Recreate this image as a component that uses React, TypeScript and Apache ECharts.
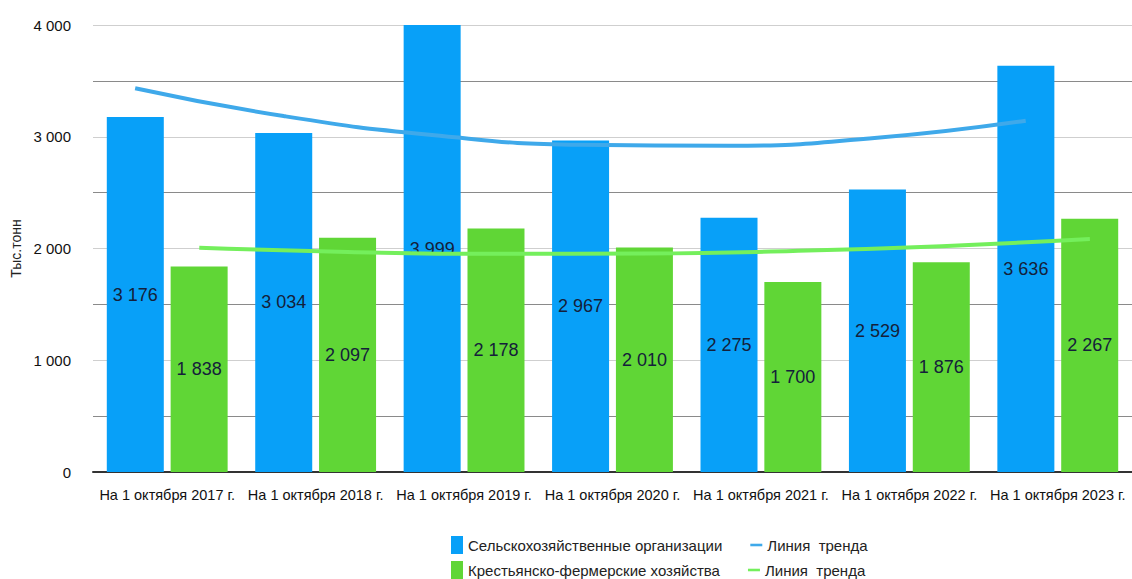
import React, { useEffect, useRef } from "react";
import * as echarts from "echarts";

const categories = [
  "На 1 октября 2017 г.",
  "На 1 октября 2018 г.",
  "На 1 октября 2019 г.",
  "На 1 октября 2020 г.",
  "На 1 октября 2021 г.",
  "На 1 октября 2022 г.",
  "На 1 октября 2023 г.",
];
const agroOrgs = [3176, 3034, 3999, 2967, 2275, 2529, 3636];
const farms = [1838, 2097, 2178, 2010, 1700, 1876, 2267];
// trend line values (at each bar's centre)
const agroTrend = [3434, 3185, 3016, 2928, 2919, 2991, 3144];
const farmTrend = [2007, 1969, 1952, 1955, 1978, 2021, 2085];

const NAME_A = "Сельскохозяйственные организации";
const NAME_B = "Крестьянско-фермерские хозяйства";
const TREND_A = "Линия тренда 1";
const TREND_B = "Линия тренда 2";

const FONT = "'Liberation Sans', Arial, sans-serif";
const fmt = (v: number) => {
  const s = String(Math.round(v));
  return s.replace(/\B(?=(\d{3})+(?!\d))/g, " ");
};

export default function App() {
  const ref = useRef<HTMLDivElement>(null);
  useEffect(() => {
    if (!ref.current) return;
    const chart = echarts.init(ref.current, undefined, { renderer: "svg" });
    const off = 0.216;
    const legendCommon = {
      orient: "horizontal" as const,
      itemWidth: 12,
      itemHeight: 18,
      itemGap: 28,
      textStyle: { fontFamily: FONT, fontSize: 15, color: "#222" },
      formatter: (n: string) => (n.startsWith("Линия") ? "Линия  тренда" : n),
      selectedMode: false,
    };
    chart.setOption({
      animation: false,
      backgroundColor: "#fff",
      grid: { left: 93, right: 0, top: 25, bottom: 107, containLabel: false },
      legend: [
        {
          ...legendCommon,
          left: 446,
          top: 531,
          data: [
            { name: NAME_A, icon: "rect" },
            { name: TREND_A, icon: "path://M0,0H14V3H0Z" },
          ],
        },
        {
          ...legendCommon,
          left: 446,
          top: 556,
          data: [
            { name: NAME_B, icon: "rect" },
            { name: TREND_B, icon: "path://M0,0H14V3H0Z" },
          ],
        },
      ],
      xAxis: [
        {
          type: "category",
          data: categories,
          axisLine: { show: true, lineStyle: { color: "#333", width: 2 } },
          axisTick: { show: false },
          axisLabel: {
            fontFamily: FONT,
            fontSize: 14.5,
            color: "#111",
            margin: 15,
            interval: 0,
          },
        },
        {
          type: "value",
          min: -0.5,
          max: 6.5,
          show: false,
        },
      ],
      yAxis: {
        type: "value",
        min: 0,
        max: 4000,
        interval: 500,
        name: "Тыс.тонн",
        nameLocation: "middle",
        nameGap: 70,
        nameTextStyle: { fontFamily: FONT, fontSize: 14, color: "#222" },
        axisLine: { show: false },
        axisTick: { show: false },
        axisLabel: {
          fontFamily: FONT,
          fontSize: 15,
          color: "#111",
          margin: 22,
          formatter: (v: number) => (v % 1000 === 0 ? fmt(v) : ""),
        },
        splitLine: {
          lineStyle: { color: ["#cfcfcf", "#8a8a8a"], width: 1 },
        },
      },
      series: [
        {
          name: NAME_A,
          type: "bar",
          data: agroOrgs,
          barWidth: 57,
          barGap: "12%",
          itemStyle: { color: "#08a0f8" },
          label: {
            show: true,
            position: "inside",
            formatter: (p: any) => fmt(p.value),
            fontFamily: FONT,
            fontSize: 18,
            color: "#14203a",
          },
        },
        {
          name: NAME_B,
          type: "bar",
          data: farms,
          barWidth: 57,
          itemStyle: { color: "#60d636" },
          label: {
            show: true,
            position: "inside",
            formatter: (p: any) => fmt(p.value),
            fontFamily: FONT,
            fontSize: 18,
            color: "#14203a",
          },
        },
        {
          name: TREND_A,
          type: "line",
          xAxisIndex: 1,
          data: agroTrend.map((v, i) => [i - off, v]),
          smooth: true,
          showSymbol: false,
          lineStyle: { color: "#3fa9ea", width: 4 },
          itemStyle: { color: "#3fa9ea" },
          z: 5,
        },
        {
          name: TREND_B,
          type: "line",
          xAxisIndex: 1,
          data: farmTrend.map((v, i) => [i + off, v]),
          smooth: true,
          showSymbol: false,
          lineStyle: { color: "#74ef5c", width: 4 },
          itemStyle: { color: "#74ef5c" },
          z: 5,
        },
      ],
    });
    return () => chart.dispose();
  }, []);
  return (
    <div
      ref={ref}
      style={{ position: "fixed", left: 0, top: 0, width: 1132, height: 579 }}
    />
  );
}
